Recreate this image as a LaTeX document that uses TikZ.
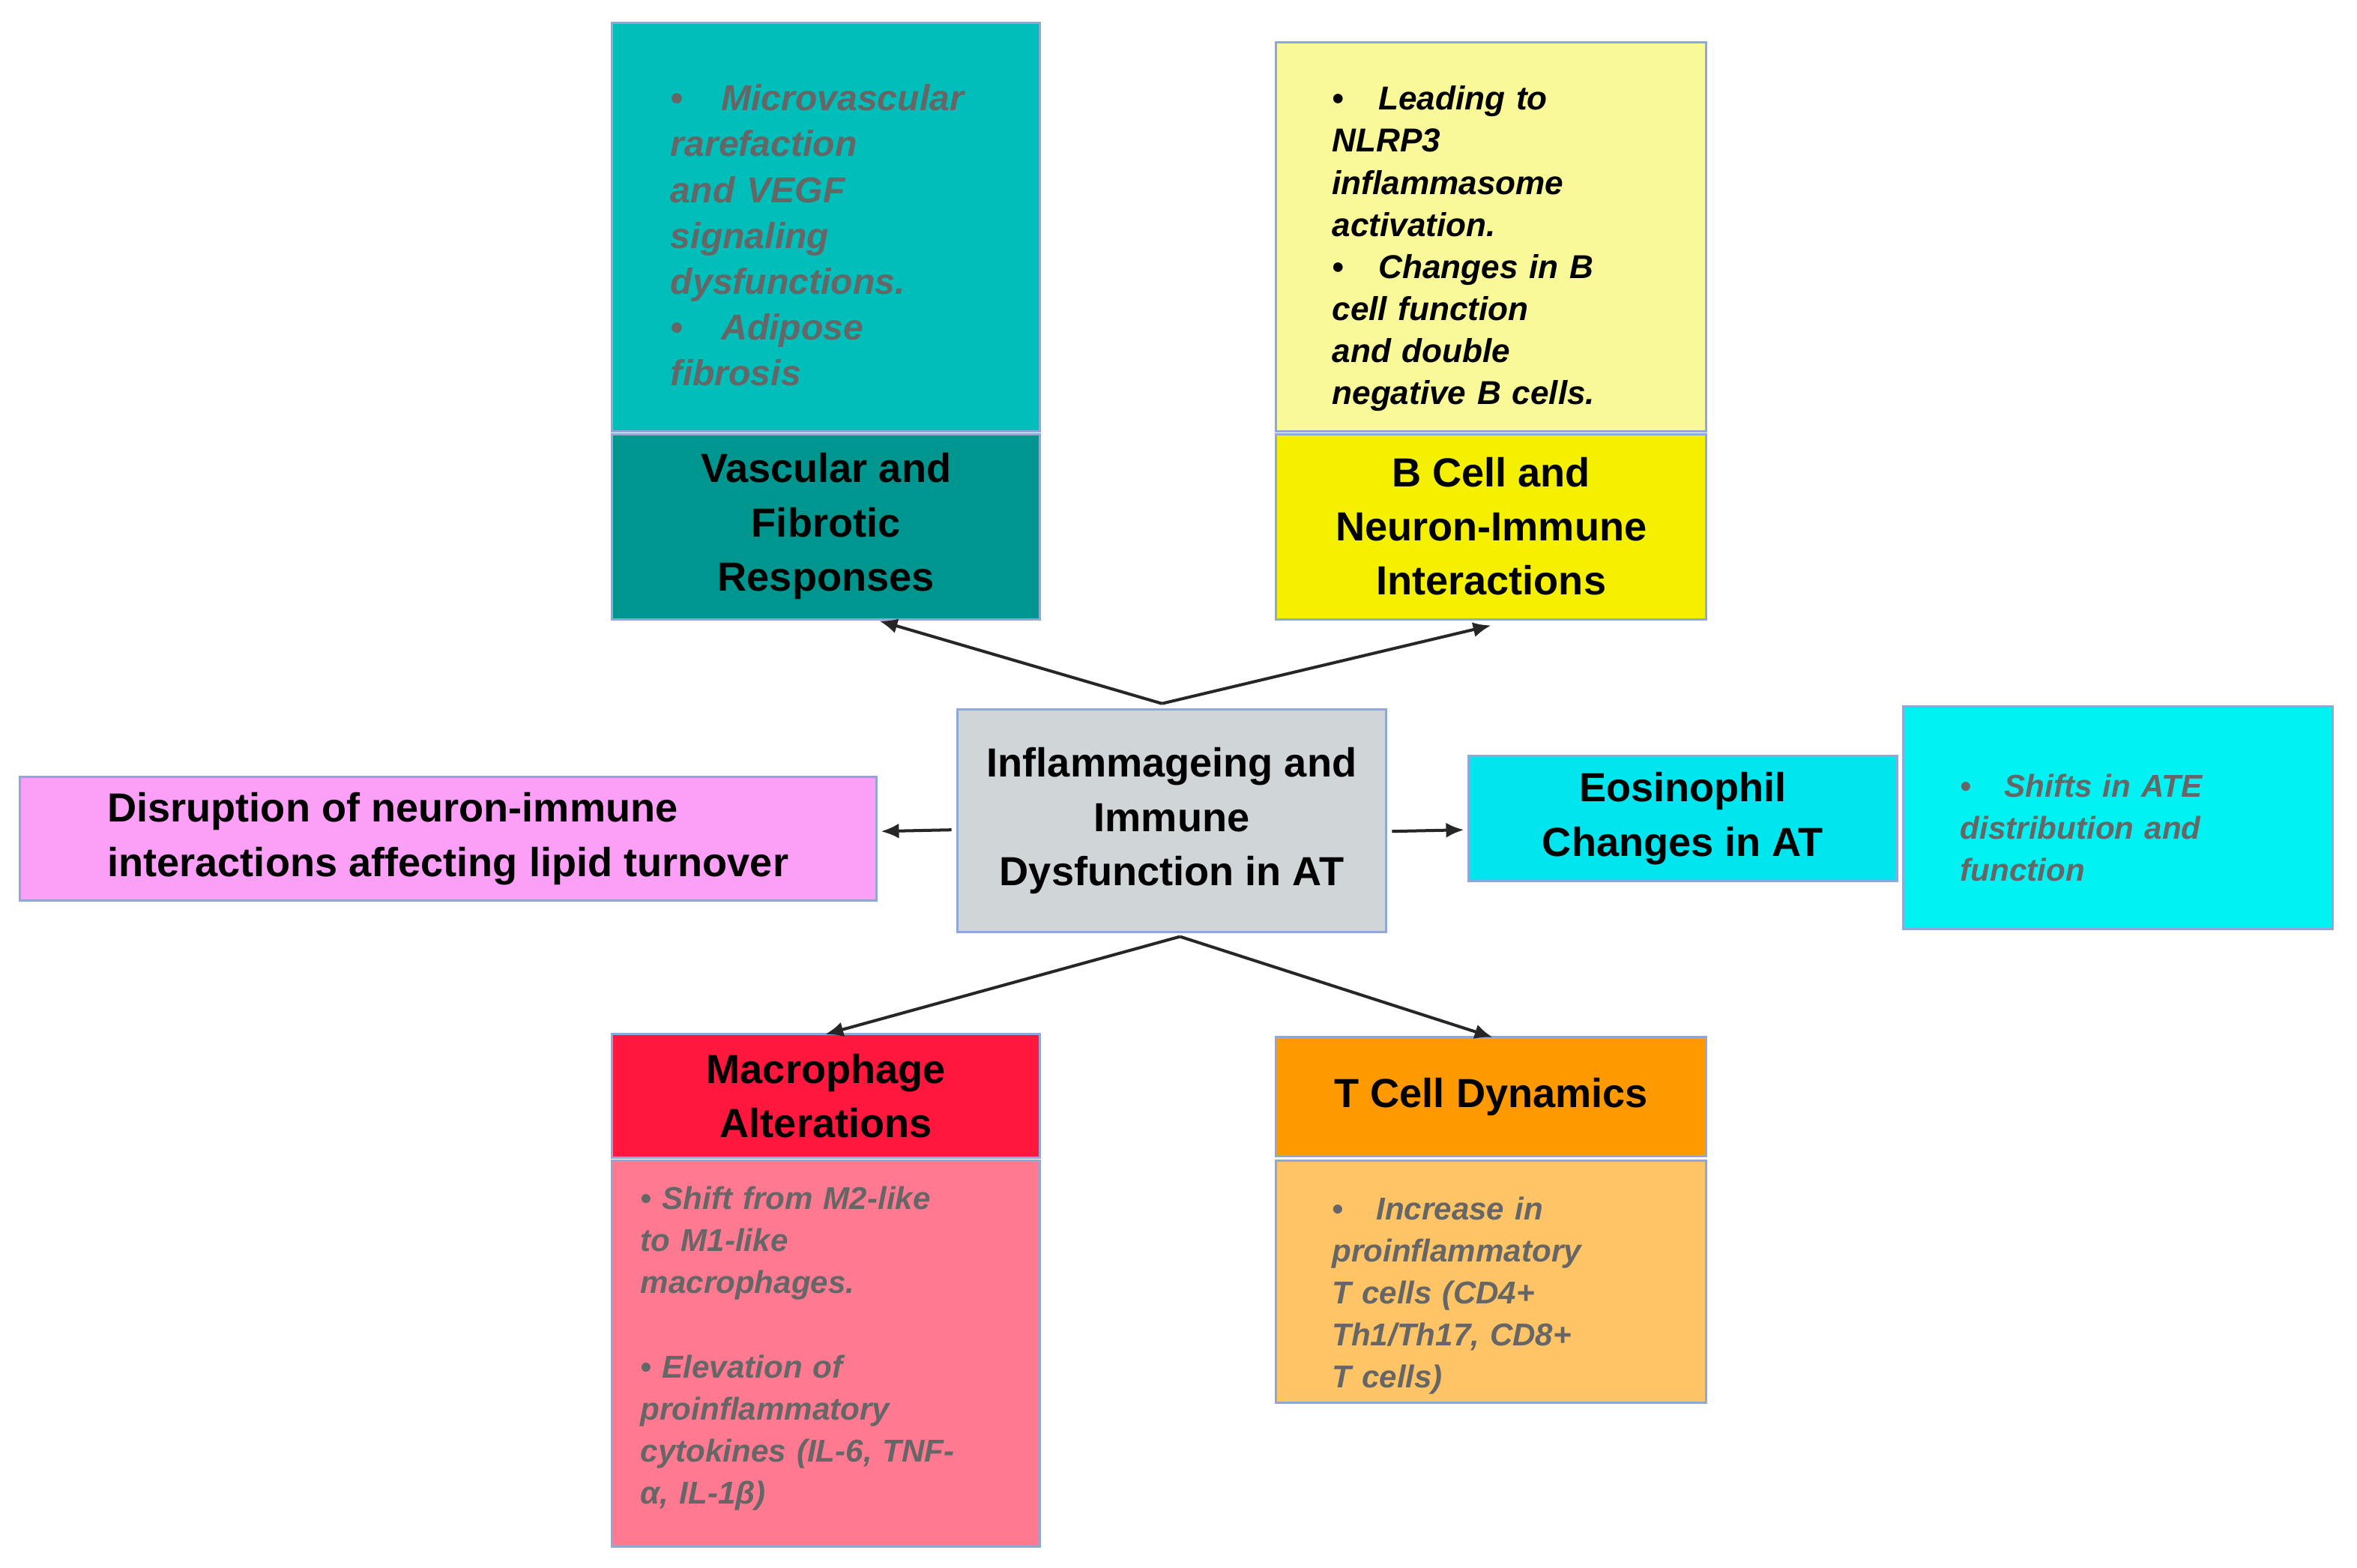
\documentclass[tikz,border=0pt]{standalone}
\usepackage{fontspec}
\setmainfont{Liberation Sans}
\usetikzlibrary{arrows.meta}
\definecolor{bd}{HTML}{8FA8D8}
\definecolor{gt}{HTML}{666666}
\newcommand{\bit}[1]{\par\hangindent=1.4em\hangafter=1\noindent\makebox[1.4em][l]{\textbullet}#1}
\begin{document}
\begin{tikzpicture}[x=1pt,y=-1pt,
 box/.style={draw=bd,line width=1.5pt},
 hd/.style={font=\fontsize{27}{36}\selectfont\bfseries,align=center,text=black},
 dt/.style={anchor=north west,align=left,inner sep=0pt,text width=#1},
 arr/.style={-{Latex[length=12pt,width=10pt]},line width=2pt,draw=black!85}]
\useasboundingbox (0,0) rectangle (1568,1043);
% boxes
\fill[box,fill={rgb,255:red,0;green,191;blue,187}] (407,15) rectangle (692,287);
\fill[box,fill={rgb,255:red,0;green,150;blue,144}] (407,289) rectangle (692,412);
\fill[box,fill={rgb,255:red,250;green,249;blue,154}] (849,28) rectangle (1135,287);
\fill[box,fill={rgb,255:red,245;green,240;blue,0}] (849,289) rectangle (1135,412);
\fill[box,fill={rgb,255:red,208;green,213;blue,216}] (637,472) rectangle (922,620);
\fill[box,fill={rgb,255:red,252;green,160;blue,247}] (13,517) rectangle (583,599);
\fill[box,fill={rgb,255:red,0;green,229;blue,238}] (977,503) rectangle (1262,586);
\fill[box,fill={rgb,255:red,0;green,242;blue,242}] (1266,470) rectangle (1552,618);
\fill[box,fill={rgb,255:red,255;green,23;blue,61}] (407,688) rectangle (692,770);
\fill[box,fill={rgb,255:red,255;green,122;blue,144}] (407,772) rectangle (692,1029);
\fill[box,fill={rgb,255:red,255;green,153;blue,0}] (849,690) rectangle (1135,769);
\fill[box,fill={rgb,255:red,255;green,196;blue,102}] (849,772) rectangle (1135,933);
% headings
\node[hd] (vas) at (549.5,350) {Vascular and\\Fibrotic\\Responses};
\node[hd] (bc) at (992,350) {B Cell and\\Neuron-Immune\\Interactions};
\node[hd] (ctr) at (779.5,546) {Inflammageing and\\Immune\\Dysfunction in AT};
\node[hd,align=left] (dis) at (298,558) {Disruption of neuron-immune\\interactions affecting lipid turnover};
\node[hd] (eos) at (1119.5,544.5) {Eosinophil\\Changes in AT};
\node[hd] (mac) at (549.5,729) {Macrophage\\Alterations};
\node[hd] (tc) at (992,729.5) {T Cell Dynamics};
% details
\node[dt=220pt,font=\fontsize{24}{30.5}\selectfont\bfseries\itshape,text=gt] (vd) at (446,43)
 {\bit{Microvascular\\rarefaction\\and VEGF\\signaling\\dysfunctions.}\bit{Adipose\\fibrosis}};
\node[dt=240pt,font=\fontsize{22}{28}\selectfont\bfseries\itshape,text=black] (bd) at (886,45)
 {\bit{Leading to\\NLRP3\\inflammasome\\activation.}\bit{Changes in B\\cell function\\and double\\negative B cells.}};
\node[dt=250pt,font=\fontsize{21}{28}\selectfont\bfseries\itshape,text=gt] (ed) at (1304,502)
 {\bit{Shifts in ATE\\distribution and\\function}};
\node[dt=260pt,font=\fontsize{21}{28}\selectfont\bfseries\itshape,text=gt] (md) at (426,789)
 {\noindent\textbullet{} Shift from M2-like\\to M1-like\\macrophages.\\[28pt]\textbullet{} Elevation of\\proinflammatory\\cytokines (IL-6, TNF-\\α, IL-1β)};
\node[dt=250pt,font=\fontsize{21}{28}\selectfont\bfseries\itshape,text=gt] (td) at (886,783)
 {\bit{Increase in\\proinflammatory\\T cells (CD4+\\Th1/Th17, CD8+\\T cells)}};
% arrows
\coordinate (ct) at (773,468);
\coordinate (cb) at (785,623);
\coordinate (cl) at (633,552);
\coordinate (cr) at (926,553);
\coordinate (va) at (585,413);
\coordinate (ba) at (992,416);
\coordinate (da) at (586,553);
\coordinate (ea) at (974,552);
\coordinate (ma) at (549,688);
\coordinate (ta) at (993,690);
\draw[arr] (ct) -- (va);
\draw[arr] (ct) -- (ba);
\draw[arr] (cl) -- (da);
\draw[arr] (cr) -- (ea);
\draw[arr] (cb) -- (ma);
\draw[arr] (cb) -- (ta);
\end{tikzpicture}
\end{document}
